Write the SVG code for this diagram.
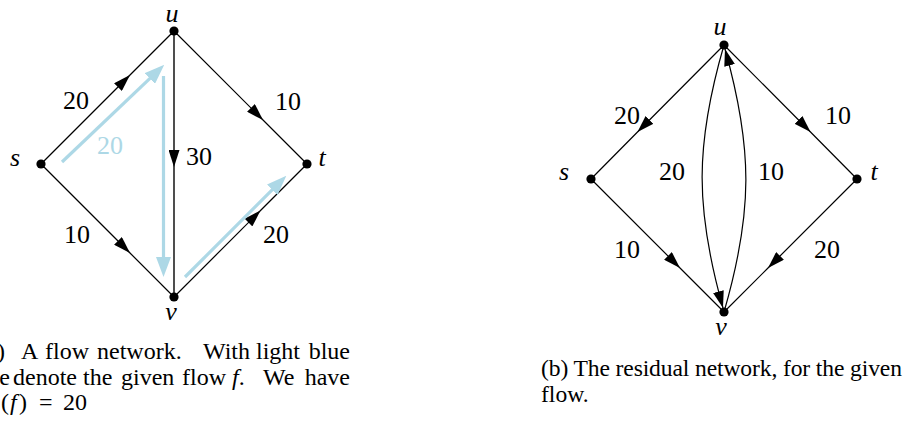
<svg xmlns="http://www.w3.org/2000/svg" width="903" height="426" viewBox="0 0 903 426">
<style>
.edge{stroke:#000;stroke-width:1.2;fill:none}
.flow{stroke:#ADD8E6;stroke-width:3.2;fill:none}
.dot{fill:#000}
.lbl{font-family:"Liberation Serif","Times New Roman",serif;font-size:26px;fill:#000;text-anchor:middle}
.nl{font-style:italic}
.blue{fill:#ADD8E6}
.cap{font-family:"Liberation Serif","Times New Roman",serif;font-size:24px;fill:#000}
.capb{font-family:"Liberation Serif","Times New Roman",serif;font-size:23.6px;fill:#000}
.it{font-style:italic}
</style>
<defs>
<marker id="ah" markerUnits="userSpaceOnUse" viewBox="0 0 17 11" refX="17" refY="5.5" markerWidth="17" markerHeight="11" orient="auto"><path d="M0,0L17,5.5L0,11z" fill="#000"/></marker>
<marker id="bh" markerUnits="userSpaceOnUse" viewBox="0 0 20 15" refX="1" refY="7.5" markerWidth="20" markerHeight="15" orient="auto"><path d="M0,0L20,7.5L0,15z" fill="#ADD8E6"/></marker>
</defs>
<rect width="903" height="426" fill="#fff"/>

<g id="connectors-a">
<path class="edge" d="M41,164 L130,75 L174,31" marker-mid="url(#ah)"/>
<path class="edge" d="M174,31 L263,120 L307,164" marker-mid="url(#ah)"/>
<path class="edge" d="M174,31 L174,167 L174,297" marker-mid="url(#ah)" style="stroke:#222;stroke-width:1.6"/>
<path class="edge" d="M41,164 L130,253 L174,297" marker-mid="url(#ah)"/>
<path class="edge" d="M174,297 L260.5,210.5 L307,164" marker-mid="url(#ah)"/>
<path class="flow" d="M62,162 L150.5,77.8" marker-end="url(#bh)"/>
<path class="flow" d="M163.5,76 L163.5,258" marker-end="url(#bh)"/>
<path class="flow" d="M185,277 L272.9,189.1" marker-end="url(#bh)"/>
</g>
<g id="edge-labels-a">
<text class="lbl" x="76" y="109">20</text>
<text class="lbl" x="288" y="110">10</text>
<text class="lbl" x="199" y="165">30</text>
<text class="lbl blue" x="110" y="154">20</text>
<text class="lbl" x="77" y="243">10</text>
<text class="lbl" x="276" y="243">20</text>
</g>
<g id="a-u"><circle class="dot" cx="174" cy="31" r="4.6"/><text class="lbl nl" x="172" y="22">u</text></g>
<g id="a-s"><circle class="dot" cx="41" cy="164" r="4.6"/><text class="lbl nl" x="15" y="166">s</text></g>
<g id="a-t"><circle class="dot" cx="307" cy="164" r="4.6"/><text class="lbl nl" x="322" y="166">t</text></g>
<g id="a-v"><circle class="dot" cx="174" cy="297" r="4.6"/><text class="lbl nl" x="171" y="320">v</text></g>

<g id="connectors-b">
<path class="edge" d="M724,45 L637.5,132 L591,179" marker-mid="url(#ah)"/>
<path class="edge" d="M724,45 L810.5,132 L857,179" marker-mid="url(#ah)"/>
<path class="edge" d="M591,179 L680,268 L724,312" marker-mid="url(#ah)"/>
<path class="edge" d="M857,179 L768,268 L724,312" marker-mid="url(#ah)"/>
<path class="edge" d="M724,45 C695,145 695,208 723,308" marker-end="url(#ah)"/>
<path class="edge" d="M724,312 C753,212 753,149 725,49" marker-end="url(#ah)"/>
</g>
<g id="edge-labels-b">
<text class="lbl" x="627" y="124">20</text>
<text class="lbl" x="838" y="124">10</text>
<text class="lbl" x="672" y="180">20</text>
<text class="lbl" x="771" y="180">10</text>
<text class="lbl" x="627" y="258">10</text>
<text class="lbl" x="827" y="258">20</text>
</g>
<g id="b-u"><circle class="dot" cx="724" cy="45" r="4.6"/><text class="lbl nl" x="720" y="35">u</text></g>
<g id="b-s"><circle class="dot" cx="591" cy="179" r="4.6"/><text class="lbl nl" x="564" y="180">s</text></g>
<g id="b-t"><circle class="dot" cx="857" cy="179" r="4.6"/><text class="lbl nl" x="874" y="180">t</text></g>
<g id="b-v"><circle class="dot" cx="724" cy="312" r="4.6"/><text class="lbl nl" x="721" y="335">v</text></g>

<g id="caption-a">
<text class="cap" y="359"><tspan x="-21.6">(a)</tspan><tspan x="21">A</tspan><tspan x="45">flow</tspan><tspan x="97">network.</tspan><tspan x="203">With</tspan><tspan x="256">light</tspan><tspan x="308.7">blue</tspan></text>
<text class="cap" y="385"><tspan x="-18">we</tspan><tspan x="13">denote</tspan><tspan x="83">the</tspan><tspan x="121">given</tspan><tspan x="182">flow</tspan><tspan x="232" class="it">f</tspan><tspan>.</tspan><tspan x="263">We</tspan><tspan x="304.7">have</tspan></text>
<text class="cap" y="410"><tspan x="1">(</tspan><tspan x="10" class="it">f</tspan><tspan x="19">)</tspan><tspan x="39">=</tspan><tspan x="63">20</tspan></text>
</g>
<g id="caption-b">
<text class="capb" x="541" y="376" textLength="361" lengthAdjust="spacing">(b) The residual network, for the given</text>
<text class="capb" x="541" y="402">flow.</text>
</g>
</svg>
